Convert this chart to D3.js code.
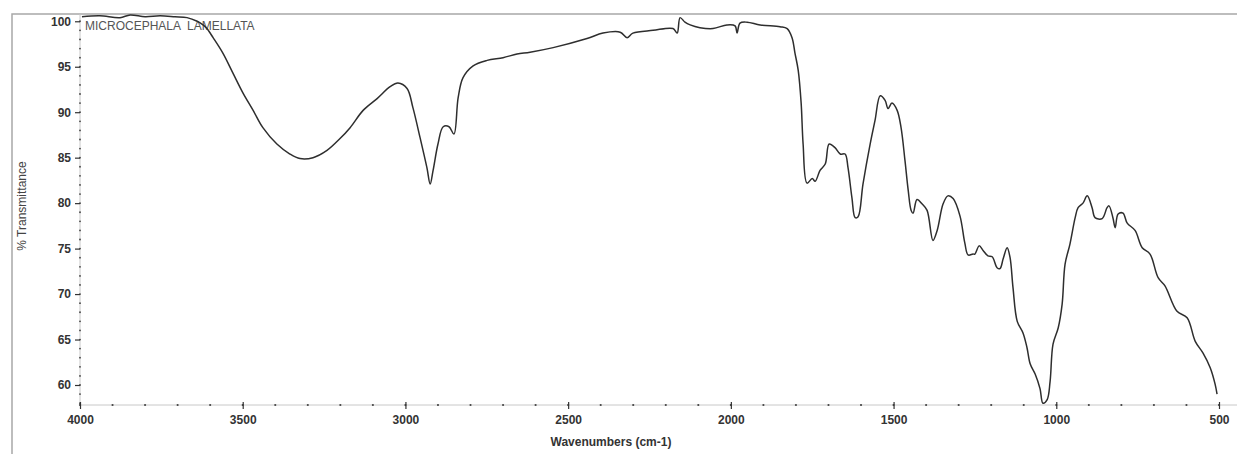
<!DOCTYPE html>
<html>
<head>
<meta charset="utf-8">
<script src="https://cdn.jsdelivr.net/npm/d3@7"></script>
<style>
  body { margin: 0; background: #fff; }
  svg { display: block; font-family: "Liberation Sans", Arial, sans-serif; }
</style>
</head>
<body>
<div id="chart"></div>
<script>
// spectrum, wavenumber (cm-1) and % transmittance
var wavenumbers = [3994, 3939, 3877, 3846, 3800, 3754, 3708, 3671, 3640, 3622, 3610, 3591, 3561, 3530, 3499, 3468, 3438, 3395, 3355, 3324,
  3284, 3241, 3201, 3170, 3130, 3087, 3047, 3023, 2995, 2977, 2955, 2934, 2924, 2915, 2900, 2884, 2866, 2851, 2838, 2823,
  2792, 2749, 2700, 2657, 2617, 2546, 2442, 2393, 2340, 2319, 2301, 2239, 2178, 2165, 2156, 2141, 2125, 2095, 2055, 2012,
  1987, 1981, 1972, 1950, 1910, 1849, 1827, 1812, 1803, 1793, 1784, 1778, 1766, 1750, 1741, 1726, 1710, 1698, 1680, 1664,
  1649, 1640, 1628, 1618, 1609, 1594, 1572, 1557, 1541, 1526, 1517, 1505, 1489, 1477, 1465, 1455, 1446, 1440, 1428, 1412,
  1397, 1379, 1366, 1348, 1333, 1317, 1296, 1281, 1271, 1256, 1250, 1237, 1225, 1210, 1197, 1182, 1173, 1163, 1151, 1142,
  1133, 1120, 1102, 1090, 1080, 1065, 1050, 1041, 1028, 1019, 1010, 994, 982, 973, 958, 942, 933, 918, 905, 890,
  881, 859, 844, 838, 826, 819, 810, 795, 782, 758, 736, 712, 687, 666, 629, 598, 573, 549, 527, 512, 506];
var transmittance = [100.5, 100.6, 100.4, 100.7, 100.5, 100.6, 100.5, 100.4, 100.0, 99.6, 99.2, 98.2, 96.5, 94.3, 92.1, 90.2, 88.3, 86.5, 85.4, 84.9,
  85.0, 85.8, 87.1, 88.3, 90.2, 91.5, 92.8, 93.2, 92.6, 90.5, 87.2, 83.9, 82.1, 83.6, 86.5, 88.4, 88.4, 87.6, 91.6, 93.8,
  95.1, 95.7, 96.0, 96.4, 96.6, 97.1, 98.1, 98.7, 98.8, 98.2, 98.7, 99.0, 99.2, 98.7, 100.4, 99.9, 99.6, 99.3, 99.2, 99.6,
  99.5, 98.7, 99.8, 99.9, 99.6, 99.4, 99.2, 98.2, 96.5, 94.6, 91.0, 86.5, 82.2, 82.7, 82.4, 83.6, 84.3, 86.5, 86.1, 85.4,
  85.4, 83.9, 80.6, 78.4, 78.5, 82.1, 86.5, 89.1, 91.8, 91.3, 90.4, 91.0, 90.2, 88.3, 84.7, 81.4, 79.2, 78.9, 80.4, 79.9,
  79.2, 75.9, 77.0, 79.9, 80.8, 80.5, 78.6, 75.6, 74.3, 74.4, 74.4, 75.3, 74.8, 74.2, 74.1, 72.9, 72.8, 73.9, 75.1, 74.0,
  70.7, 67.0, 65.7, 64.1, 62.3, 61.2, 59.6, 58.0, 58.4, 60.4, 64.5, 66.3, 68.9, 73.3, 75.5, 78.4, 79.5, 80.0, 80.8, 79.5,
  78.4, 78.3, 79.5, 79.7, 78.4, 77.3, 78.8, 78.9, 77.8, 77.0, 75.1, 74.4, 71.8, 70.9, 68.1, 67.4, 64.8, 63.5, 61.9, 60.1, 59.0];

var xTicks = [4000, 3500, 3000, 2500, 2000, 1500, 1000, 500];
var yTicks = [60, 65, 70, 75, 80, 85, 90, 95, 100];
var title = "MICROCEPHALA  LAMELLATA";

var svgWidth = 1237, svgHeight = 454;

var svg = d3.select("#chart").append("svg")
  .attr("width", svgWidth)
  .attr("height", svgHeight);

var x = d3.scaleLinear().domain([4000, 500]).range([80, 1219]);
var y = d3.scaleLinear().domain([57.8, 100.8]).range([405, 14]);

// outer frame of the printout
svg.append("path")
  .attr("d", "M12,454V14H1237")
  .attr("fill", "none")
  .attr("stroke", "#a8a8a8")
  .attr("stroke-width", 1.5);

// axis lines
svg.append("line")
  .attr("x1", 80).attr("x2", 80)
  .attr("y1", y(57.8)).attr("y2", y(100.8))
  .attr("stroke", "#c8c8c8");
svg.append("line")
  .attr("x1", 80).attr("x2", 1237)
  .attr("y1", 405).attr("y2", 405)
  .attr("stroke", "#c8c8c8");

// minor dots
var yMinor = d3.range(58, 101, 1);
svg.append("g").selectAll("circle")
  .data(yMinor)
  .enter().append("circle")
  .attr("cx", 80)
  .attr("cy", function(d) { return y(d); })
  .attr("r", 0.9)
  .attr("fill", "#444");

var xMinor = d3.range(4000, 400, -100);
svg.append("g").selectAll("circle")
  .data(xMinor)
  .enter().append("circle")
  .attr("cx", function(d) { return x(d); })
  .attr("cy", 405)
  .attr("r", 1.1)
  .attr("fill", "#444");

// y axis
var gy = svg.append("g")
  .attr("transform", "translate(80,0)")
  .call(d3.axisLeft(y).tickValues(yTicks).tickSize(5).tickPadding(4).tickFormat(d3.format("d")));
gy.select(".domain").remove();
gy.selectAll(".tick line").attr("stroke", "#333").attr("stroke-width", 1.2);
gy.selectAll(".tick text")
  .attr("fill", "#333")
  .style("font-size", "12px")
  .style("font-weight", "bold")
  .style("font-family", "Liberation Sans, Arial, sans-serif");

// x axis
var gx = svg.append("g")
  .attr("transform", "translate(0,405)")
  .call(d3.axisBottom(x).tickValues(xTicks).tickSize(4).tickPadding(6).tickFormat(d3.format("d")));
gx.select(".domain").remove();
gx.selectAll(".tick line").attr("stroke", "#333").attr("stroke-width", 1.2).attr("y1", -3);
gx.selectAll(".tick text")
  .attr("fill", "#333")
  .style("font-size", "12px")
  .style("font-weight", "bold")
  .style("font-family", "Liberation Sans, Arial, sans-serif");

// axis titles
svg.append("text")
  .attr("transform", "translate(26,206) rotate(-90)")
  .attr("text-anchor", "middle")
  .attr("fill", "#444")
  .style("font-size", "12px")
  .text("% Transmittance");

svg.append("text")
  .attr("x", 611)
  .attr("y", 446)
  .attr("text-anchor", "middle")
  .attr("fill", "#333")
  .style("font-size", "12px")
  .style("font-weight", "bold")
  .text("Wavenumbers (cm-1)");

svg.append("text")
  .attr("x", 85)
  .attr("y", 30)
  .attr("fill", "#555")
  .style("font-size", "12px")
  .style("white-space", "pre")
  .text(title);

// spectrum
var data = wavenumbers.map(function(d, i) { return { wn: d, t: transmittance[i] }; });

var line = d3.line()
  .x(function(d) { return x(d.wn); })
  .y(function(d) { return y(d.t); })
  .curve(d3.curveCatmullRom.alpha(0.5));

svg.append("path")
  .datum(data)
  .attr("fill", "none")
  .attr("stroke", "#2e2e2e")
  .attr("stroke-width", 1.5)
  .attr("stroke-linejoin", "round")
  .attr("d", line);
</script>
</body>
</html>
